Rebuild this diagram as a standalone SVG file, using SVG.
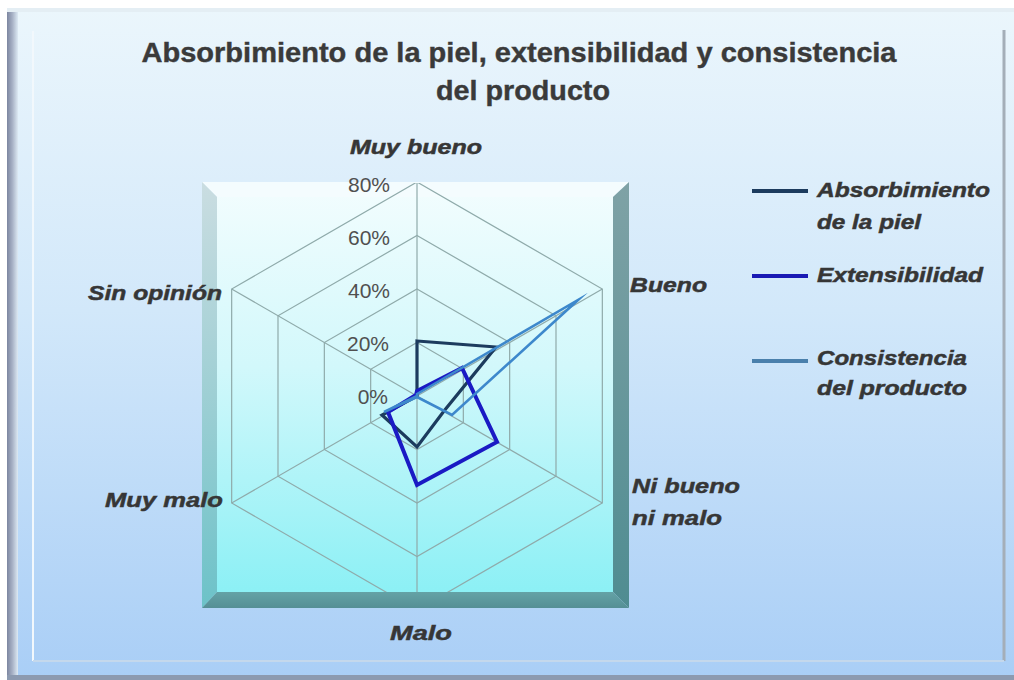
<svg xmlns="http://www.w3.org/2000/svg" width="1014" height="680" viewBox="0 0 1014 680">
<defs>
<linearGradient id="bg" x1="0" y1="0" x2="0" y2="1">
<stop offset="0" stop-color="#EBF6FC"/>
<stop offset="0.45" stop-color="#D2E8FA"/>
<stop offset="1" stop-color="#A9CEF6"/>
</linearGradient>
<linearGradient id="leftEdge" x1="0" y1="0" x2="1" y2="0">
<stop offset="0" stop-color="#7C86A0"/>
<stop offset="0.5" stop-color="#A8B2C6"/>
<stop offset="1" stop-color="#DDEAF4"/>
</linearGradient>
<linearGradient id="wall" x1="0" y1="0" x2="0" y2="1">
<stop offset="0" stop-color="#F3FDFE"/>
<stop offset="0.45" stop-color="#D2F8FB"/>
<stop offset="1" stop-color="#8CF0F5"/>
</linearGradient>
<linearGradient id="lbevel" x1="0" y1="0" x2="0" y2="1">
<stop offset="0" stop-color="#CADDE1"/>
<stop offset="0.5" stop-color="#9ECFD4"/>
<stop offset="1" stop-color="#6CC2C8"/>
</linearGradient>
<linearGradient id="rbevel" x1="0" y1="0" x2="0" y2="1">
<stop offset="0" stop-color="#7FA2A6"/>
<stop offset="1" stop-color="#4F8C91"/>
</linearGradient>
<linearGradient id="floor" x1="0" y1="0" x2="0" y2="1">
<stop offset="0" stop-color="#64A2A6"/>
<stop offset="1" stop-color="#558F95"/>
</linearGradient>
<clipPath id="wallClip"><rect x="217" y="183" width="396" height="409"/></clipPath>
<style>
.grid{fill:none;stroke:#8FAAAA;stroke-width:1.2}
.tick{font-family:"Liberation Sans",Arial,sans-serif;font-size:21px;fill:#505050;text-anchor:end}
.cat{font-family:"Liberation Sans",Arial,sans-serif;font-size:21px;font-weight:bold;font-style:italic;fill:#363636;stroke:#363636;stroke-width:0.5}
.title{font-family:"Liberation Sans",Arial,sans-serif;font-size:27px;font-weight:bold;fill:#3A3A3A;stroke:#3A3A3A;stroke-width:0.4;text-anchor:middle}
.s1{fill:none;stroke:#1C3B5E;stroke-width:3.2;stroke-linejoin:miter}
.s2{fill:none;stroke:#1A1AC4;stroke-width:4;stroke-linejoin:miter}
.s3{fill:none;stroke:#3D88CC;stroke-width:2.6;stroke-linejoin:miter;stroke-miterlimit:20}
</style>
</defs>

<g id="frame">
<rect x="0" y="0" width="1014" height="680" fill="#FFFFFF"/>
<rect x="7" y="8" width="1007" height="672" fill="url(#bg)"/>
<rect x="7" y="8" width="11" height="672" fill="url(#leftEdge)"/>
<rect x="7" y="8" width="1007" height="4" fill="#E4EEF4"/>
<line x1="33" y1="31" x2="33" y2="661" stroke="#F2F8FC" stroke-width="2"/>
<line x1="1004" y1="30" x2="1004" y2="661" stroke="#A4AEB8" stroke-width="3"/>
<line x1="33" y1="661" x2="1004" y2="661" stroke="#C4D8EC" stroke-width="2"/>
<rect x="7" y="675" width="1007" height="5" fill="#8C9AB0"/>
</g>

<g id="title">
<text class="title" x="519" y="62" textLength="755" lengthAdjust="spacingAndGlyphs">Absorbimiento de la piel, extensibilidad y consistencia</text>
<text class="title" x="523" y="100" textLength="174" lengthAdjust="spacingAndGlyphs">del producto</text>
</g>

<g id="plot-box">
<rect x="217" y="183" width="396" height="409" fill="url(#wall)"/>
<polygon points="202,182 629,182 613,197 217,197" fill="#F4FCFE"/>
<polygon points="202,182 217,197 217,592 202,608" fill="url(#lbevel)"/>
<polygon points="629,182 613,197 613,592 629,608" fill="url(#rbevel)"/>
</g>

<g id="grid" clip-path="url(#wallClip)">
<polygon class="grid" points="417,342.5 463.33,369.25 463.33,422.75 417,449.5 370.67,422.75 370.67,369.25"/>
<polygon class="grid" points="417,289 509.66,342.5 509.66,449.5 417,503 324.34,449.5 324.34,342.5"/>
<polygon class="grid" points="417,235.5 556,315.75 556,476.25 417,556.5 278,476.25 278,315.75"/>
<polygon class="grid" points="417,182 602.33,289 602.33,503 417,610 231.67,503 231.67,289"/>
<line class="grid" x1="417" y1="396" x2="417" y2="182"/>
<line class="grid" x1="417" y1="396" x2="602.33" y2="289"/>
<line class="grid" x1="417" y1="396" x2="602.33" y2="503"/>
<line class="grid" x1="417" y1="396" x2="417" y2="610"/>
<line class="grid" x1="417" y1="396" x2="231.67" y2="503"/>
<line class="grid" x1="417" y1="396" x2="231.67" y2="289"/>
</g>

<g id="floor">
<polygon points="217,592 613,592 629,608 202,608" fill="url(#floor)"/>
</g>

<g id="axis-ticks">
<text class="tick" x="390" y="192">80%</text>
<text class="tick" x="390" y="245">60%</text>
<text class="tick" x="390" y="298">40%</text>
<text class="tick" x="389" y="351">20%</text>
<text class="tick" x="388" y="404">0%</text>
</g>

<g id="series">
<polygon id="absorbimiento" class="s1" points="417,341 496,347 444,411 417,447 382,415 417,396"/>
<polygon id="extensibilidad" class="s2" points="417,391 462,368 497,442 417,485 388,412 416,395"/>
<polygon id="consistencia" class="s3" points="417,394 578,300 452,415 417,397 384,412 417,396"/>
</g>

<g id="category-labels">
<text class="cat" x="350" y="154" textLength="132" lengthAdjust="spacingAndGlyphs">Muy bueno</text>
<text class="cat" x="630" y="292" textLength="77" lengthAdjust="spacingAndGlyphs">Bueno</text>
<text class="cat" x="632" y="493" textLength="108" lengthAdjust="spacingAndGlyphs">Ni bueno</text>
<text class="cat" x="632" y="525" textLength="90" lengthAdjust="spacingAndGlyphs">ni malo</text>
<text class="cat" x="390" y="640" textLength="62" lengthAdjust="spacingAndGlyphs">Malo</text>
<text class="cat" x="105" y="507" textLength="118" lengthAdjust="spacingAndGlyphs">Muy malo</text>
<text class="cat" x="88" y="300" textLength="134" lengthAdjust="spacingAndGlyphs">Sin opinión</text>
</g>

<g id="legend">
<g id="legend-absorbimiento">
<line x1="752" y1="191" x2="808" y2="191" stroke="#1C3B5E" stroke-width="4"/>
<text class="cat" x="817" y="197" textLength="173" lengthAdjust="spacingAndGlyphs">Absorbimiento</text>
<text class="cat" x="817" y="229" textLength="104" lengthAdjust="spacingAndGlyphs">de la piel</text>
</g>
<g id="legend-extensibilidad">
<line x1="752" y1="276" x2="808" y2="276" stroke="#1A1AB4" stroke-width="4"/>
<text class="cat" x="817" y="282" textLength="166" lengthAdjust="spacingAndGlyphs">Extensibilidad</text>
</g>
<g id="legend-consistencia">
<line x1="752" y1="361" x2="808" y2="361" stroke="#4A80AC" stroke-width="4"/>
<text class="cat" x="817" y="365" textLength="150" lengthAdjust="spacingAndGlyphs">Consistencia</text>
<text class="cat" x="817" y="395" textLength="150" lengthAdjust="spacingAndGlyphs">del producto</text>
</g>
</g>
</svg>
